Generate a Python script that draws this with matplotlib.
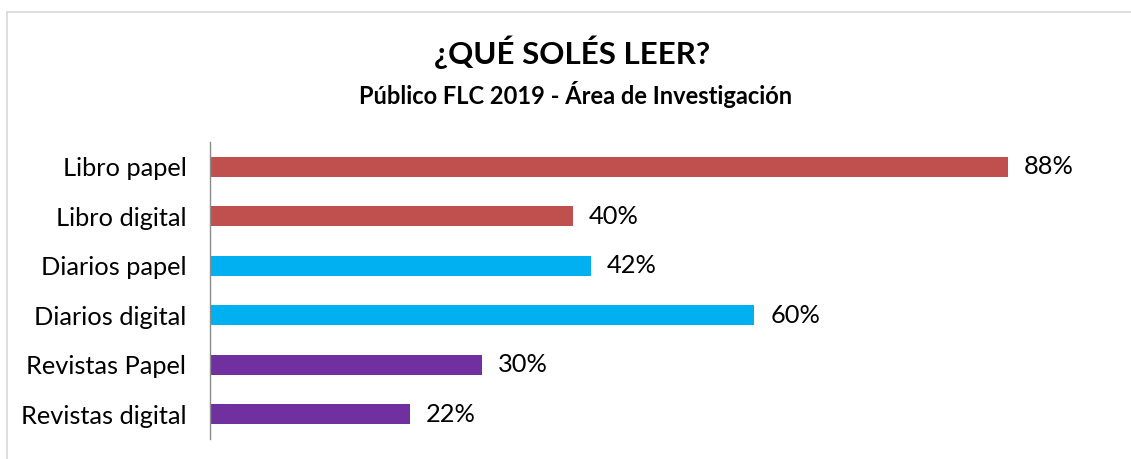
import matplotlib
matplotlib.use("Agg")
import matplotlib.pyplot as plt
from matplotlib.lines import Line2D

categories = ["Libro papel", "Libro digital", "Diarios papel", "Diarios digital", "Revistas Papel", "Revistas digital"]
values = [88, 40, 42, 60, 30, 22]
colors = ["#C0504D", "#C0504D", "#00B0F0", "#00B0F0", "#7030A0", "#7030A0"]
title = "¿QUÉ SOLÉS LEER?"
subtitle = "Público FLC 2019 - Área de Investigación"

plt.rcParams['font.family'] = ['Lato', 'DejaVu Sans']

W, H = 1131, 459
fig = plt.figure(figsize=(W/100, H/100), dpi=100)
ax = fig.add_axes([210/W, (H-439)/H, 907/W, 297/H])

y = list(range(len(categories)))
ax.barh(y, values, height=0.4, color=colors)
ax.set_ylim(len(categories)-0.5, -0.5)
ax.set_xlim(0, 100)
ax.set_yticks(y)
ax.set_yticklabels(categories, fontsize=18.3, color="#000000")
ax.tick_params(axis='y', length=0, pad=17)
ax.set_xticks([])
for s in ["top", "right", "bottom"]:
    ax.spines[s].set_visible(False)
ax.spines["left"].set_color("#8c8c8c")
ax.spines["left"].set_linewidth(1.0)

for yi, v in zip(y, values):
    ax.annotate(f"{v}%", xy=(v, yi), xytext=(16, 0), textcoords="offset pixels",
                va="center", ha="left", fontsize=18.3, color="#000000")

fig.text(572/W, 1-52/H, title, ha="center", va="center", fontsize=22.5, fontweight="bold")
fig.text(576/W, 1-95/H, subtitle, ha="center", va="center", fontsize=17, fontweight="bold")

fig.add_artist(Line2D([7/W, 1], [1-12/H, 1-12/H], color="#d9d9d9", lw=1.2, transform=fig.transFigure))
fig.add_artist(Line2D([7/W, 7/W], [0, 1-12/H], color="#d9d9d9", lw=1.2, transform=fig.transFigure))

fig.savefig("out.png", dpi=100)
